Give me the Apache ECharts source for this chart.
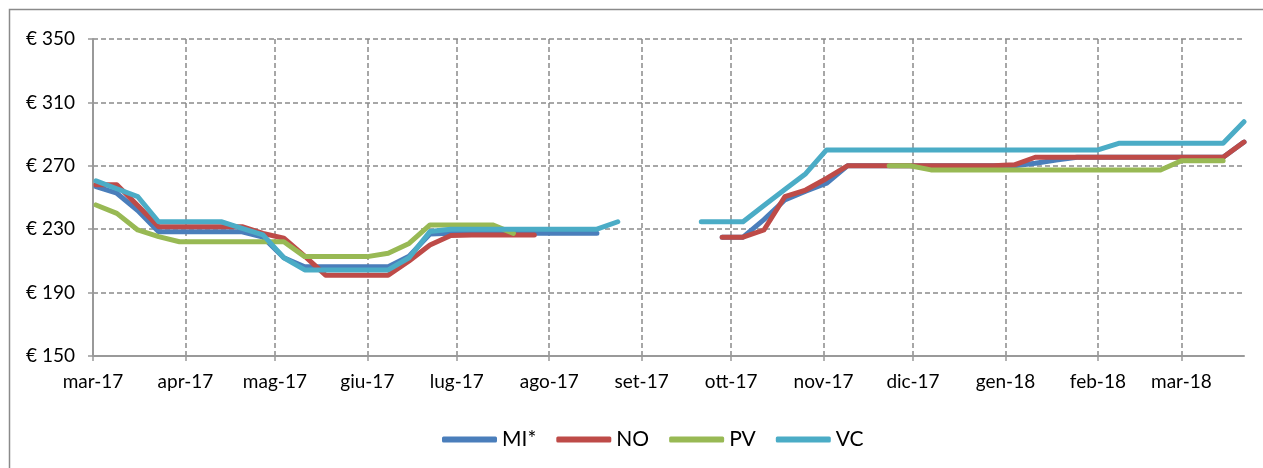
<!DOCTYPE html>
<html lang="it">
<head>
    <meta charset="UTF-8">
    <title>prezzi settimanali</title>
    <script type="text/javascript" src="https://cdn.jsdelivr.net/npm/echarts@6/dist/echarts.min.js"></script>
    <style>
        html, body { margin: 0; padding: 0; background: #fff; }
        #main { width: 1263px; height: 468px; }
    </style>
</head>
<body>
<div id="main"></div>
<script type="text/javascript">
    // date delle rilevazioni settimanali
    var dates = [
        '2017-03-02', '2017-03-09', '2017-03-16', '2017-03-23', '2017-03-30',
        '2017-04-06', '2017-04-13', '2017-04-20', '2017-04-27',
        '2017-05-04', '2017-05-11', '2017-05-18', '2017-05-25',
        '2017-06-01', '2017-06-08', '2017-06-15', '2017-06-22', '2017-06-29',
        '2017-07-06', '2017-07-13', '2017-07-20', '2017-07-27',
        '2017-08-03', '2017-08-10', '2017-08-17', '2017-08-24', '2017-08-31',
        '2017-09-07', '2017-09-14', '2017-09-21', '2017-09-28',
        '2017-10-05', '2017-10-12', '2017-10-19', '2017-10-26',
        '2017-11-02', '2017-11-09', '2017-11-16', '2017-11-23', '2017-11-30',
        '2017-12-07', '2017-12-14', '2017-12-21', '2017-12-28',
        '2018-01-04', '2018-01-11', '2018-01-18', '2018-01-25',
        '2018-02-01', '2018-02-08', '2018-02-15', '2018-02-22',
        '2018-03-01', '2018-03-08', '2018-03-15', '2018-03-22'
    ];
    var mi = [
        256.8, 252.7, 241.8, 228.4, 228.4, 228.4, 228.4, 228.4, 225, 212,
        206.3, 206.3, 206.3, 206.3, 206.3, 213, 227, 227.4, 227.4, 227.4,
        227.4, 227.4, 227.4, 227.4, 227.4, null, null, null, null, null,
        225, 225, 236, 248.4, 254, 259, 270, 270, 270, 270,
        270, 270, 270, 270, 270, 271.6, 273.7, 275.4, 275.4, 275.4,
        275.4, 275.4, 275.4, 275.4, 275.4, 285
    ];
    var no = [
        258, 258, 245, 231.6, 231.6, 231.6, 231.6, 231.6, 227.4, 224.3,
        213, 201, 201, 201, 201, 210, 220, 226, 226.4, 226.4,
        226.4, 226.4, null, null, null, null, null, null, null, null,
        225, 225, 229.5, 250.5, 254.7, 262, 270, 270, 270, 270,
        270, 270, 270, 270, 270.6, 275.4, 275.4, 275.4, 275.4, 275.4,
        275.4, 275.4, 275.4, 275.4, 275.4, 285
    ];
    var pv = [
        245.3, 240, 229.5, 225.3, 222.1, 222.1, 222.1, 222.1, 222.1, 222.1,
        212.7, 212.7, 212.7, 212.7, 214.8, 221, 232.7, 232.7, 232.7, 232.7,
        227.4, null, null, null, null, null, null, null, null, null,
        null, null, null, null, null, null, null, null, 270, 270,
        267.4, 267.4, 267.4, 267.4, 267.4, 267.4, 267.4, 267.4, 267.4, 267.4,
        267.4, 267.4, 273.2, 273.2, 273.2, null
    ];
    var vc = [
        260.5, 255.5, 250.5, 234.7, 234.7, 234.7, 234.7, 230.5, 226.4, 212,
        204.3, 204.3, 204.3, 204.3, 204.3, 212, 228.5, 230, 230, 230,
        230, 230, 230, 230, 230, 234.7, null, null, null, 234.7,
        234.7, 234.7, 245, 255, 265, 280, 280, 280, 280, 280,
        280, 280, 280, 280, 280, 280, 280, 280, 280, 284.2,
        284.2, 284.2, 284.2, 284.2, 284.2, 297.8
    ];
    var monthLabels = ['mar-17', 'apr-17', 'mag-17', 'giu-17', 'lug-17', 'ago-17', 'set-17',
        'ott-17', 'nov-17', 'dic-17', 'gen-18', 'feb-18', 'mar-18'];
    var names = ['MI*', 'NO', 'PV', 'VC'];
    var colors = ['#4a7ebb', '#be4b48', '#98b954', '#4bacc6'];

    function pairs(vals) {
        return dates.map(function (d, i) {
            return [d, vals[i] == null ? '-' : vals[i]];
        });
    }

    var DAY = 24 * 3600 * 1000;
    var font = 'Lato, "Open Sans", sans-serif';

    var myChart = echarts.init(document.getElementById('main'));
    myChart.setOption({
        animation: false,
        color: colors,
        graphic: [{
            type: 'rect',
            shape: {x: 9.5, y: 9.5, width: 1300, height: 500},
            style: {fill: null, stroke: '#8a8a8a', lineWidth: 1.5},
            silent: true
        }],
        grid: {left: 93, right: 19, top: 39, bottom: 112},
        legend: {
            data: names,
            left: 437,
            top: 424,
            icon: 'roundRect',
            itemWidth: 55,
            itemHeight: 6,
            itemGap: 20,
            textStyle: {fontFamily: font, fontSize: 21, color: '#000'}
        },
        xAxis: {
            type: 'time',
            min: '2017-03-01',
            max: '2018-03-22',
            minInterval: 28 * DAY,
            maxInterval: 32 * DAY,
            splitNumber: 13,
            axisLine: {lineStyle: {color: '#999', width: 2}},
            axisTick: {show: true, length: 5, lineStyle: {color: '#999', width: 1.5}},
            axisLabel: {
                fontFamily: font, fontSize: 19, color: '#000', margin: 16,
                showMaxLabel: false, hideOverlap: false,
                formatter: function (v) {
                    var d = new Date(v);
                    var k = (d.getFullYear() - 2017) * 12 + d.getMonth() - 2;
                    return d.getDate() === 1 ? (monthLabels[k] || '') : '';
                }
            },
            splitLine: {show: true, showMaxLine: false, lineStyle: {color: '#8a8a8a', width: 1.5, type: [5, 3]}}
        },
        yAxis: {
            type: 'value',
            min: 150,
            max: 350,
            interval: 40,
            axisLine: {show: true, lineStyle: {color: '#999', width: 2}},
            axisTick: {show: true, length: 5, lineStyle: {color: '#999', width: 1.5}},
            axisLabel: {
                fontFamily: font, fontSize: 19, color: '#000', margin: 18,
                formatter: function (v) { return '€ ' + v; }
            },
            splitLine: {lineStyle: {color: '#8a8a8a', width: 1.5, type: [5, 3]}}
        },
        series: [mi, no, pv, vc].map(function (vals, i) {
            return {
                name: names[i],
                type: 'line',
                data: pairs(vals),
                showSymbol: false,
                symbol: 'none',
                lineStyle: {width: 5, cap: 'round', join: 'round'}
            };
        })
    });
</script>
</body>
</html>
